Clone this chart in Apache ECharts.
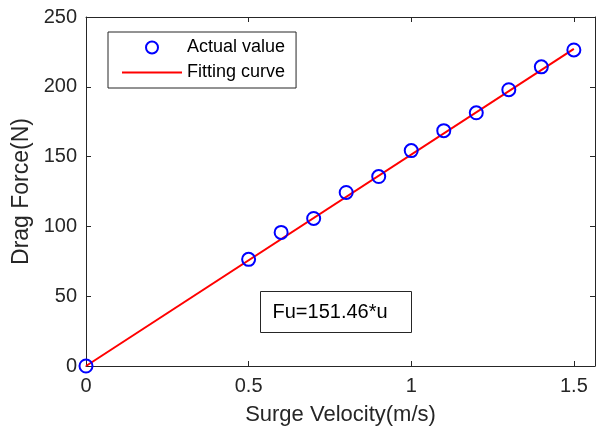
<!DOCTYPE html>
<html>
<head>
<meta charset="utf-8">
<script src="https://cdn.jsdelivr.net/npm/echarts@6/dist/echarts.min.js"></script>
<style>html,body{margin:0;padding:0;background:#fff;}#c{width:598px;height:432px;}</style>
</head>
<body>
<div id="c"></div>
<script>
var velocity = [0, 0.5, 0.6, 0.7, 0.8, 0.9, 1.0, 1.1, 1.2, 1.3, 1.4, 1.5];
var dragForce = [0, 76.4, 95.7, 105.7, 124.3, 135.7, 154.3, 168.6, 181.4, 197.9, 214.3, 226.4];
var fitVelocity = [0, 1.5];
var fitForce = [0, 227.19];
var xTicks = [0, 0.5, 1, 1.5];
var yTicks = [0, 50, 100, 150, 200, 250];
var equationText = 'Fu=151.46*u';

var FONT = '"Liberation Sans", Arial, sans-serif';
var AX = '#262626';
var chart = echarts.init(document.getElementById('c'), null, {renderer: 'canvas'});

var scatterData = velocity.map(function (v, i) { return [v, dragForce[i]]; });
var fitData = fitVelocity.map(function (v, i) { return [v, fitForce[i]]; });

var tickStyle = {show: true, inside: true, length: 5, lineStyle: {color: AX, width: 1}};
chart.setOption({
  animation: false,
  backgroundColor: '#fff',
  grid: {left: 86, top: 17, right: 1, bottom: 66},
  legend: {
    left: 108, top: 32, orient: 'vertical',
    padding: [6, 11, 6, 14],
    itemWidth: 60, itemHeight: 12, itemGap: 6,
    borderColor: AX, borderWidth: 1, borderRadius: 0,
    backgroundColor: '#fff',
    textStyle: {fontSize: 18, fontFamily: FONT, color: '#000', lineHeight: 19},
    data: [
      {name: 'Actual value'},
      {name: 'Fitting curve', icon: 'path://M0,0 L60,0 L60,2 L0,2 Z', itemStyle: {color: '#ff0000'}}
    ]
  },
  xAxis: [{
    type: 'value', min: 0, max: 1.565, interval: 0.5,
    name: 'Surge Velocity(m/s)', nameLocation: 'middle', nameGap: 38,
    nameTextStyle: {fontSize: 22, fontFamily: FONT, color: AX},
    axisLine: {show: true, lineStyle: {color: AX, width: 1}},
    axisTick: tickStyle,
    axisLabel: {fontSize: 20, fontFamily: FONT, color: AX, margin: 10,
      formatter: function (v) { return xTicks.indexOf(v) >= 0 ? String(v) : ''; }},
    splitLine: {show: false}
  }, {
    type: 'value', position: 'top', min: 0, max: 1.565, interval: 0.5,
    axisLine: {show: true, onZero: false, lineStyle: {color: AX, width: 1}},
    axisTick: tickStyle, axisLabel: {show: false}, splitLine: {show: false}
  }],
  yAxis: [{
    type: 'value', min: 0, max: 250, interval: 50,
    name: 'Drag Force(N)', nameLocation: 'middle', nameGap: 48,
    nameTextStyle: {fontSize: 23, fontFamily: FONT, color: AX},
    axisLine: {show: true, lineStyle: {color: AX, width: 1}},
    axisTick: tickStyle,
    axisLabel: {fontSize: 20, fontFamily: FONT, color: AX, margin: 9,
      formatter: function (v) { return yTicks.indexOf(v) >= 0 ? String(v) : ''; }},
    splitLine: {show: false}
  }, {
    type: 'value', position: 'right', min: 0, max: 250, interval: 50,
    axisLine: {show: true, onZero: false, lineStyle: {color: AX, width: 1}},
    axisTick: tickStyle, axisLabel: {show: false}, splitLine: {show: false}
  }],
  series: [{
    name: 'Fitting curve', type: 'line', data: fitData,
    symbol: 'none', showSymbol: false, z: 2,
    lineStyle: {color: '#ff0000', width: 2},
    itemStyle: {color: '#ff0000'}
  }, {
    name: 'Actual value', type: 'scatter', data: scatterData,
    symbol: 'circle', symbolSize: 13, clip: false, z: 3,
    itemStyle: {color: 'rgba(255,255,255,0)', borderColor: '#0000ff', borderWidth: 2, opacity: 1}
  }],
  graphic: [{
    type: 'group', left: 260, top: 291,
    children: [{
      type: 'rect', shape: {x: 0, y: 0, width: 151, height: 41},
      style: {fill: '#fff', stroke: AX, lineWidth: 1}
    }, {
      type: 'text', x: 12, y: 20.5,
      style: {text: equationText, fontSize: 20, fontFamily: FONT, fill: '#000', verticalAlign: 'middle', textAlign: 'left'}
    }]
  }]
});
</script>
</body>
</html>
